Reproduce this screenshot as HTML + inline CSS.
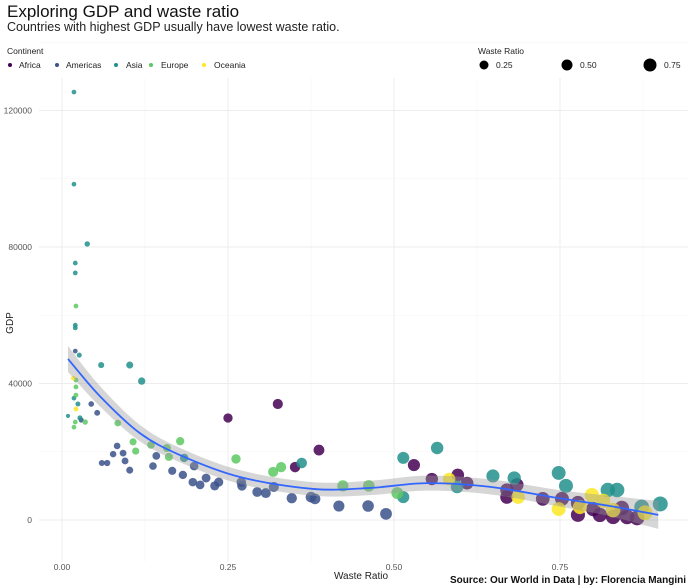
<!DOCTYPE html>
<html><head><meta charset="utf-8">
<style>
body{margin:0;background:#fff;}
svg{display:block;font-family:"Liberation Sans",sans-serif;}
</style></head>
<body>
<svg id="chart" width="689" height="588" viewBox="0 0 689 588" xmlns="http://www.w3.org/2000/svg">
<text x="7" y="17" font-size="17" fill="#111">Exploring GDP and waste ratio</text>
<text x="7" y="31" font-size="12.5" fill="#222">Countries with highest GDP usually have lowest waste ratio.</text>
<g font-size="8.5" fill="#222">
<text x="7" y="54">Continent</text>
<circle cx="10" cy="65" r="2" fill="#440154"/><text x="19" y="68">Africa</text>
<circle cx="57" cy="65" r="2" fill="#3B528B"/><text x="66" y="68">Americas</text>
<circle cx="116" cy="65" r="2" fill="#21908C"/><text x="126" y="68">Asia</text>
<circle cx="151" cy="65" r="2" fill="#5DC863"/><text x="161" y="68">Europe</text>
<circle cx="204" cy="65" r="2" fill="#FDE725"/><text x="214" y="68">Oceania</text>
</g>
<g font-size="8.5" fill="#222">
<text x="478" y="54">Waste Ratio</text>
<circle cx="484" cy="65" r="4.5" fill="#000"/><text x="496" y="68">0.25</text>
<circle cx="567" cy="65" r="5.5" fill="#000"/><text x="580" y="68">0.50</text>
<circle cx="650" cy="65" r="6.5" fill="#000"/><text x="664" y="68">0.75</text>
</g>
<g id="grid"></g>
<g id="points"></g>
<g id="smooth"></g>
<g id="axes" font-size="8.5" fill="#555"></g>
<text x="361" y="579" font-size="10" fill="#222" text-anchor="middle">Waste Ratio</text>
<text transform="translate(13,323) rotate(-90)" font-size="10" fill="#222" text-anchor="middle">GDP</text>
<text x="686" y="583" font-size="10" font-weight="bold" fill="#111" text-anchor="end">Source: Our World in Data | by: Florencia Mangini</text>
</svg>
<script>
const xTicks=[0,0.25,0.5,0.75];
const xTickLabels=["0.00","0.25","0.50","0.75"];
const yTicks=[0,40000,80000,120000];
const yTickLabels=["0","40000","80000","120000"];
const continents=["Africa","Americas","Asia","Europe","Oceania"];
const asiaX=[0.018,0.018,0.038,0.020,0.020,0.020,0.020,0.026,0.059,0.102,0.120,0.018,0.024,0.009,0.027,0.184,0.361,0.514,0.514,0.565,0.595,0.649,0.681,0.748,0.759,0.822,0.836,0.873,0.901];
const asiaY=[125400,98400,80900,75300,72400,57100,56300,48300,45400,45400,40700,35700,34000,30500,29900,18200,16700,6700,18200,21100,9700,12900,12300,13800,10000,8800,8800,3800,4700];
const americasX=[0.020,0.044,0.053,0.029,0.083,0.077,0.092,0.060,0.068,0.095,0.102,0.142,0.137,0.199,0.166,0.182,0.197,0.208,0.217,0.230,0.236,0.270,0.271,0.294,0.307,0.319,0.346,0.375,0.381,0.417,0.461,0.488];
const americasY=[49500,34000,31400,29300,21700,19300,19600,16700,16700,17300,14600,18800,15800,15800,14400,13200,11100,10300,12300,10000,11100,11100,10000,8200,7900,9700,6400,6700,6200,4100,4100,1800];
const europeX=[0.021,0.021,0.021,0.021,0.020,0.035,0.018,0.084,0.107,0.111,0.134,0.158,0.161,0.178,0.262,0.318,0.330,0.423,0.462,0.505];
const europeY=[62700,41000,39000,36600,28700,28700,27200,28400,22900,20200,22000,21100,18500,23100,17900,14100,15500,10000,10000,7900];
const africaX=[0.250,0.325,0.351,0.387,0.530,0.557,0.596,0.610,0.685,0.670,0.670,0.724,0.753,0.777,0.777,0.800,0.810,0.843,0.830,0.851,0.866];
const africaY=[29900,34000,15500,20500,16100,12000,13200,10800,10300,8800,6700,6200,6200,5000,1500,3200,1500,3500,900,900,600];
const oceaniaX=[0.017,0.021,0.583,0.687,0.748,0.780,0.798,0.815,0.830,0.878];
const oceaniaY=[41600,32500,12000,6700,3200,3800,7300,5600,2900,2100];
const smoothX=[0.009,0.057,0.117,0.178,0.268,0.378,0.464,0.55,0.645,0.748,0.825,0.898];
const smoothY=[47200,36300,25500,19000,12600,9100,9400,10800,9700,6400,4100,1500];
const smoothSE=[3800,3000,2400,2100,2000,2000,2100,2200,2200,2400,3000,4100];

const NS="http://www.w3.org/2000/svg";
const X=v=>62+664*v;
const Y=v=>520-v*136.5/40000;
const R=v=>1.5+6.3*Math.sqrt(v);
const colors={Africa:"#440154",Americas:"#3B528B",Asia:"#21908C",Europe:"#5DC863",Oceania:"#FDE725"};
function mk(tag,attrs,parent){const e=document.createElementNS(NS,tag);for(const k in attrs)e.setAttribute(k,attrs[k]);parent.appendChild(e);return e;}
const grid=document.getElementById('grid');
for(let i=0;i<8;i++){const v=i*0.125;const l=mk('line',{x1:X(v),x2:X(v),y1:78,y2:562,stroke:i%2?'#f5f5f5':'#ededed','stroke-width':i%2?0.6:0.9},grid);

}
for(let i=-1;i<8;i++){const v=i*20000;const l=mk('line',{x1:39,x2:688,y1:Y(v),y2:Y(v),stroke:i%2?'#f5f5f5':'#ededed','stroke-width':i%2?0.6:0.9},grid);

}
const axes=document.getElementById('axes');
xTicks.forEach((v,i)=>{const t=mk('text',{x:X(v),y:570,'text-anchor':'middle'},axes);t.textContent=xTickLabels[i];

});
yTicks.forEach((v,i)=>{const t=mk('text',{x:32,y:Y(v)+3,'text-anchor':'end'},axes);t.textContent=yTickLabels[i];

});
const pts=document.getElementById('points');
const series={Africa:[africaX,africaY],Americas:[americasX,americasY],Asia:[asiaX,asiaY],Europe:[europeX,europeY],Oceania:[oceaniaX,oceaniaY]};
continents.forEach(c=>{const [xs,ys]=series[c];xs.forEach((x,i)=>{const p=mk('circle',{cx:X(x),cy:Y(ys[i]),r:R(x),fill:colors[c],'fill-opacity':0.85},pts);

});});
const sm=document.getElementById('smooth');
function curve(xs,ys){let d=`M${X(xs[0])},${Y(ys[0])}`;for(let i=1;i<xs.length;i++){const x0=X(xs[i-1]),y0=Y(ys[i-1]),x1=X(xs[i]),y1=Y(ys[i]);const xp=i>1?X(xs[i-2]):x0,yp=i>1?Y(ys[i-2]):y0;const xn=i<xs.length-1?X(xs[i+1]):x1,yn=i<xs.length-1?Y(ys[i+1]):y1;d+=` C${x0+(x1-xp)/6},${y0+(y1-yp)/6} ${x1-(xn-x0)/6},${y1-(yn-y0)/6} ${x1},${y1}`;}return d;}
const up=smoothY.map((v,i)=>v+smoothSE[i]);const lo=smoothY.map((v,i)=>v-smoothSE[i]);
let bd=curve(smoothX,up);
const rx=[...smoothX].reverse(),rl=[...lo].reverse();
bd+=' L'+curve(rx,rl).slice(1)+' Z';
const band=mk('path',{d:bd,fill:'#999','fill-opacity':0.4},sm);


const line=mk('path',{d:curve(smoothX,smoothY),fill:'none',stroke:'#3366FF','stroke-width':1.8},sm);


</script>
</body></html>
